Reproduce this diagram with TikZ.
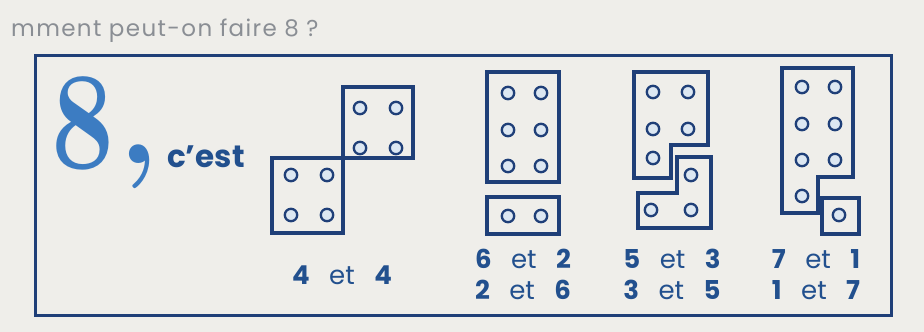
\documentclass[tikz,border=0pt]{standalone}
\usepackage{fontspec}
\newfontfamily\geofont{Poppins}
\newfontfamily\titlefont[LetterSpace=6]{Poppins}
\definecolor{paper}{HTML}{EFEEEA}
\definecolor{navy}{HTML}{1F3F78}
\definecolor{ink}{HTML}{22508E}
\definecolor{eightblue}{HTML}{3C7CC2}
\definecolor{pipfill}{HTML}{DCE7F2}
\definecolor{greytext}{HTML}{8A8E94}

\begin{document}
\begin{tikzpicture}[
  x=1pt,y=-1pt,
  heading/.style={font=\titlefont\fontsize{23}{26}\selectfont,text=greytext,anchor=base west,inner sep=0pt},
  bignum/.style={font=\bfseries\fontsize{140}{140}\selectfont,text=eightblue,anchor=base,inner sep=0pt},
  comma/.style={font=\bfseries\fontsize{130}{130}\selectfont,text=eightblue,anchor=base west,inner sep=0pt},
  cest/.style={font=\geofont\bfseries\fontsize{31}{33}\selectfont,text=ink,anchor=base west,inner sep=0pt},
  sumtext/.style={font=\geofont\fontsize{26}{28}\selectfont,text=ink,anchor=base,inner sep=0pt},
  frame/.style={draw=navy,line width=3pt},
  domino/.style={draw=navy,line width=3.4pt,line join=miter},
  pip/.style={draw=navy,fill=pipfill,line width=2.3pt}
]
\fill[paper] (0,0) rectangle (924,332);
\useasboundingbox (0,0) rectangle (924,332);
\node[heading] (title) at (11,36) {mment peut-on faire 8 ?};

% Frame
\draw[frame] (35,55) rectangle (891,315);
\node[bignum] (eight) at (83,168) {\scalebox{0.8}[1]{8}};
\node[comma] (virgule) at (118,163) {,};
\node[cest] (cest) at (167,167) {c’est};

% 4 et 4
\draw[domino] (343,87) rectangle (413,158);
\draw[domino] (272,158) rectangle (343,233);
\foreach \x/\y in {360/108,396/108,360/148,396/148,291/175,327/175,291/215,327/215} {
  \draw[pip] (\x,\y) circle (6.2);
}
\node[sumtext] (sum44) at (342,284) {{\bfseries 4}\hspace{.75em}et\hspace{.75em}{\bfseries 4}};

% 6 et 2
\draw[domino] (487,72) rectangle (559,182);
\draw[domino] (487,197) rectangle (559,234);
\foreach \x/\y in {508/93,541/93,508/130,541/130,508/166,541/166,508/216,541/216} {
  \draw[pip] (\x,\y) circle (6.2);
}
\node[sumtext] (sum62) at (523,268) {{\bfseries 6}\hspace{.75em}et\hspace{.75em}{\bfseries 2}};
\node[sumtext] (sum26) at (523,299) {{\bfseries 2}\hspace{.75em}et\hspace{.75em}{\bfseries 6}};

% 5 et 3
\draw[domino] (634,72) -- (708,72) -- (708,145) -- (671,145) -- (671,178) -- (634,178) -- cycle;
\draw[domino] (677,157) -- (711,157) -- (711,228) -- (638,228) -- (638,193) -- (677,193) -- cycle;
\foreach \x/\y in {653/92,688/92,653/129,688/129,653/158,691/175,651/210,691/210} {
  \draw[pip] (\x,\y) circle (6.2);
}
\node[sumtext] (sum53) at (672,268) {{\bfseries 5}\hspace{.75em}et\hspace{.75em}{\bfseries 3}};
\node[sumtext] (sum35) at (672,299) {{\bfseries 3}\hspace{.75em}et\hspace{.75em}{\bfseries 5}};

% 7 et 1
\draw[domino] (782,68) -- (853,68) -- (853,177) -- (818,177) -- (818,213) -- (782,213) -- cycle;
\draw[domino] (822,198) rectangle (859,234);
\foreach \x/\y in {802/87,835/87,802/124,835/124,802/160,835/160,802/196,839/215} {
  \draw[pip] (\x,\y) circle (6.2);
}
\node[sumtext] (sum71) at (816,268) {{\bfseries 7}\hspace{.75em}et\hspace{.75em}{\bfseries 1}};
\node[sumtext] (sum17) at (816,299) {{\bfseries 1}\hspace{.75em}et\hspace{.75em}{\bfseries 7}};
\end{tikzpicture}
\end{document}
